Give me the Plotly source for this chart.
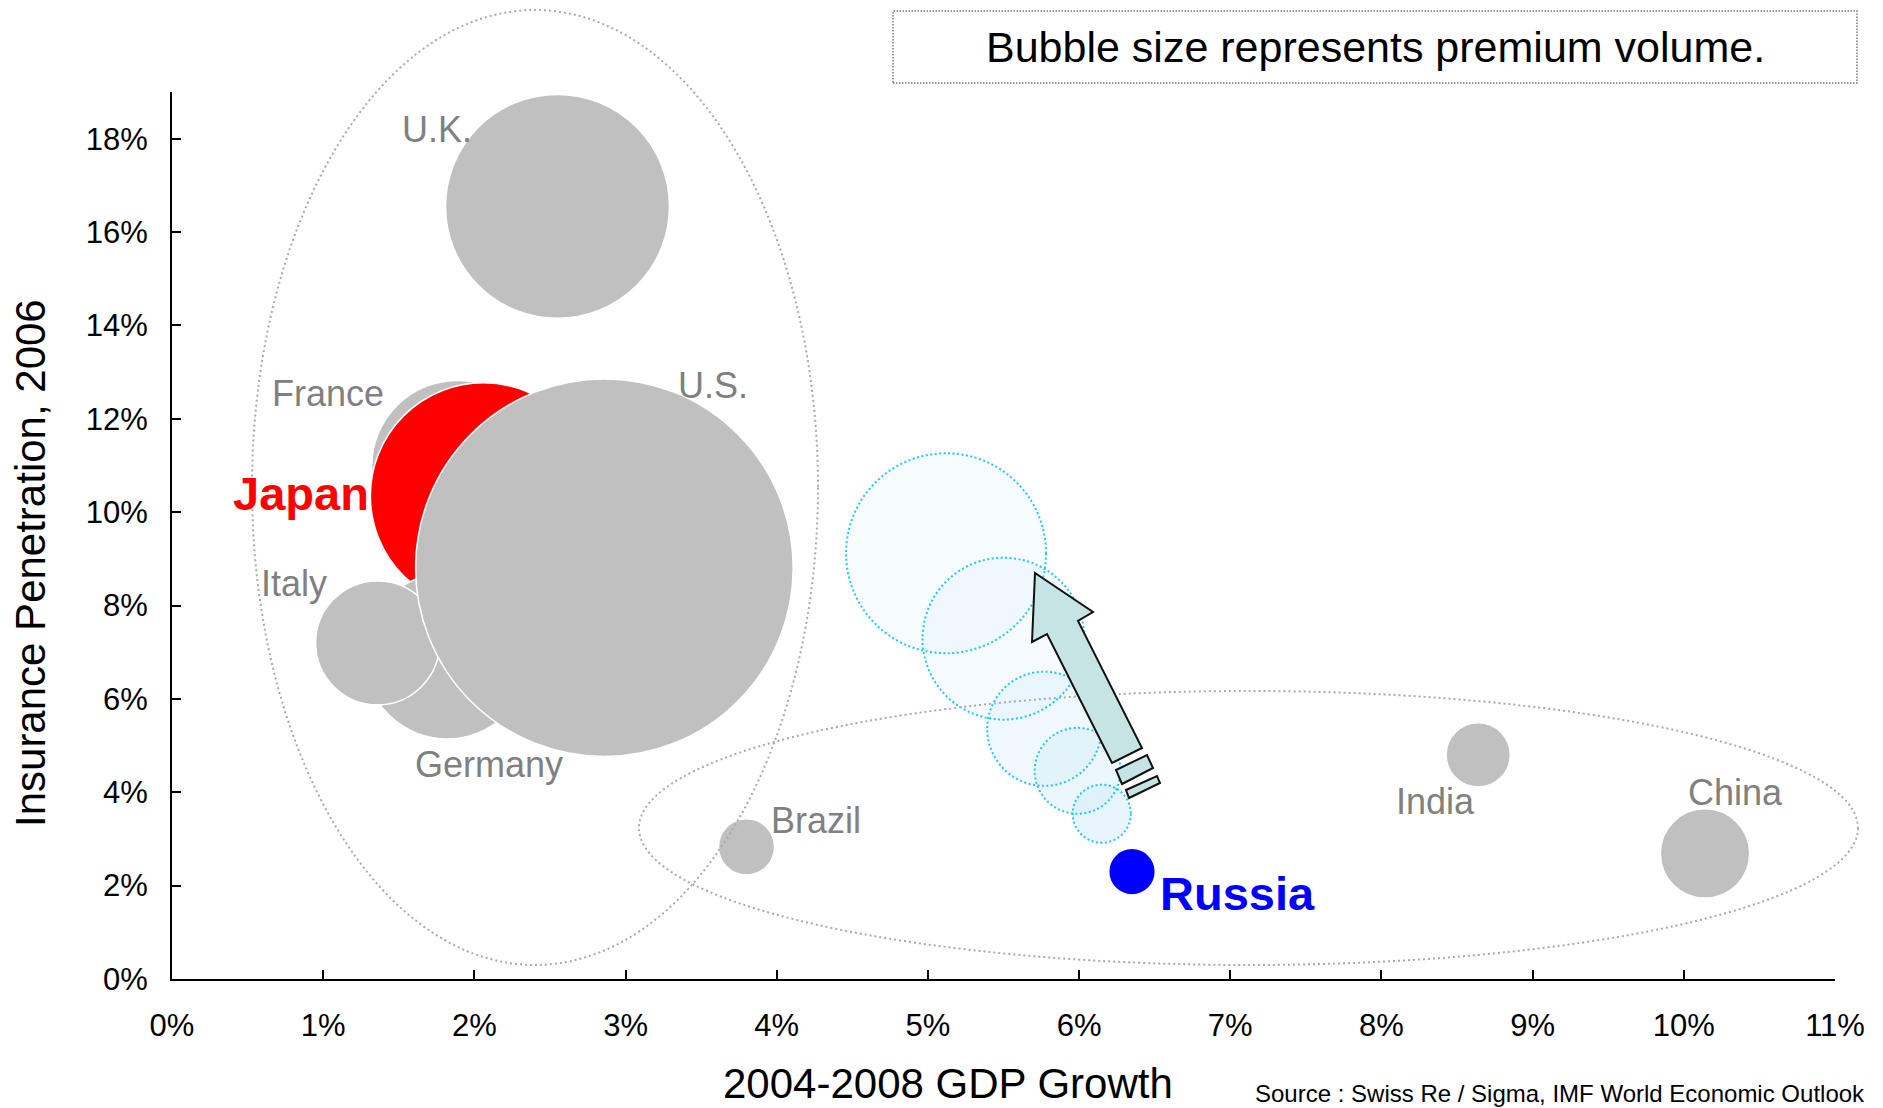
import plotly.graph_objects as go

# ---------------- data ----------------
countries = ["France", "Japan", "Germany", "Italy", "U.S.", "U.K.", "Brazil", "India", "China", "Russia"]
gdp_growth = [1.89, 2.06, 1.82, 1.36, 2.86, 2.55, 3.80, 8.64, 10.14, 6.35]          # 2004-2008 GDP growth, %
penetration = [10.98, 10.35, 6.92, 7.20, 8.81, 16.55, 2.83, 4.80, 2.69, 2.30]      # insurance penetration 2006, %
premium = [245, 423, 228, 127, 1180, 415, 26, 34, 66, 18]                        # premium volume (bubble size)

# Russia's projected path (dotted bubbles)
proj_growth = [5.12, 5.50, 5.77, 5.99, 6.15]
proj_penetration = [9.12, 7.29, 5.36, 4.46, 3.54]
proj_premium = [331, 217, 108, 61, 28]

x_ticks = list(range(0, 12))
y_ticks = list(range(0, 20, 2))

# ---------------- styles ----------------
OFF = 8                      # default page body margin
W, H = 1883 - OFF, 1108 - OFF
PL, PR, PT, PB = 172, 1835, 92, 979      # plot area in page pixels
PW, PH = PR - PL, PB - PT
ML, MT = PL - OFF, PT - OFF
MR, MB = W - ML - PW, H - MT - PH
FONT = "Arial, Liberation Sans, sans-serif"
GRAY = "#c0c0c0"
LABEL_GRAY = "#808080"
color_map = {"Japan": "#ff0000", "Russia": "#0000ff"}
label_style = {"Japan": ("#ff0000", 47, True), "Russia": ("#0000ff", 47, True)}
# label positions (data units) placed next to bubbles
label_pos = {
    "U.K.": (1.75, 18.2), "France": (1.03, 12.54), "Japan": (0.85, 10.4),
    "U.S.": (3.58, 12.72), "Italy": (0.81, 8.47), "Germany": (2.10, 4.60),
    "Brazil": (4.26, 3.40), "Russia": (7.05, 1.84), "India": (8.36, 3.80),
    "China": (10.34, 4.00),
}

SIZEREF = 1170 / (2 * 188 ** 2)


def radius_px(v):
    return (v / (2 * SIZEREF)) ** 0.5


def paper(X, Y):
    return ((X - PL) / PW, (PB - Y) / PH)


fig = go.Figure()

# main bubbles
fig.add_trace(go.Scatter(
    x=gdp_growth, y=penetration, mode="markers", text=countries,
    marker=dict(size=premium, sizemode="area", sizeref=SIZEREF,
                color=[color_map.get(c, GRAY) for c in countries],
                opacity=1, line=dict(color="white", width=1.5)),
    hoverinfo="text", showlegend=False, cliponaxis=False,
))

# projected bubbles (fill)
proj_alpha = [0.22, 0.28, 0.42, 0.55, 0.65]
fig.add_trace(go.Scatter(
    x=proj_growth, y=proj_penetration, mode="markers",
    marker=dict(size=proj_premium, sizemode="area", sizeref=SIZEREF,
                color=[f"rgba(205,234,250,{a})" for a in proj_alpha],
                line=dict(width=0)),
    hoverinfo="skip", showlegend=False,
))

shapes = []
# dotted outlines of projected bubbles
for gx, py, v in zip(proj_growth, proj_penetration, proj_premium):
    r = radius_px(v)
    shapes.append(dict(type="circle", xref="x", yref="y", xsizemode="pixel", ysizemode="pixel",
                       xanchor=gx, yanchor=py, x0=-r, x1=r, y0=-r, y1=r,
                       line=dict(color="#1ec8f5", width=2, dash="2px,2.5px"), layer="above"))

# grouping ellipses
ex0, ey0 = paper(252, 965)
ex1, ey1 = paper(818, 10)
shapes.append(dict(type="circle", xref="paper", yref="paper", x0=ex0, y0=ey0, x1=ex1, y1=ey1,
                   line=dict(color="#aaaaaa", width=2, dash="2px,3px")))
hx0, hy0 = paper(639, 965)
hx1, hy1 = paper(1858, 691)
shapes.append(dict(type="circle", xref="paper", yref="paper", x0=hx0, y0=hy0, x1=hx1, y1=hy1,
                   line=dict(color="#aaaaaa", width=2, dash="2px,3px")))

# arrow


def path(points):
    pts = [paper(X, Y) for X, Y in points]
    return "M " + " L ".join(f"{a:.5f},{b:.5f}" for a, b in pts) + " Z"


arrow = [(1035, 573), (1093, 612), (1078, 621), (1142, 748), (1112, 763), (1047, 634), (1032, 642)]
stripe1 = [(1116, 770), (1147, 755), (1153, 768), (1122, 784)]
stripe2 = [(1126, 790), (1157, 776), (1160, 783), (1129, 798)]
for poly in (arrow, stripe1, stripe2):
    shapes.append(dict(type="path", xref="paper", yref="paper", path=path(poly),
                       fillcolor="#c6e4e4", line=dict(color="#111111", width=2)))

# note box
bx0, by0 = paper(893, 83)
bx1, by1 = paper(1857, 11)
shapes.append(dict(type="rect", xref="paper", yref="paper", x0=bx0, y0=by0, x1=bx1, y1=by1,
                   line=dict(color="#7a7a7a", width=1.5, dash="1.5px,1.5px")))

annotations = []
for c in countries:
    col, size, bold = label_style.get(c, (LABEL_GRAY, 36, False))
    lx, ly = label_pos[c]
    annotations.append(dict(x=lx, y=ly, xref="x", yref="y", text=f"<b>{c}</b>" if bold else c,
                            xanchor="center", yanchor="middle",
                            showarrow=False, font=dict(family=FONT, size=size, color=col)))


def paper_text(X, Y, text, size, xanchor="center", angle=0):
    px, py = paper(X, Y)
    return dict(x=px, y=py, xref="paper", yref="paper", showarrow=False, text=text,
                xanchor=xanchor, yanchor="middle", textangle=angle,
                font=dict(family=FONT, size=size, color="black"))


annotations.append(paper_text(1375, 47, "Bubble size represents premium volume.", 43))
annotations.append(paper_text(948, 1083, "2004-2008 GDP Growth", 42))
annotations.append(paper_text(30, 563, "Insurance Penetration, 2006", 42, angle=-90))
annotations.append(paper_text(1867, 1093, "Source : Swiss Re / Sigma, IMF World Economic Outlook", 24,
                              xanchor="right"))

axis_common = dict(showgrid=False, zeroline=False, showline=True, linecolor="black", linewidth=2,
                   ticks="inside", ticklen=9, tickwidth=1.5, tickcolor="black",
                   tickfont=dict(family=FONT, size=31, color="black"))

fig.update_layout(
    width=W, height=H, margin=dict(l=ML, r=MR, t=MT, b=MB, pad=0),
    paper_bgcolor="white", plot_bgcolor="rgba(0,0,0,0)",
    xaxis=dict(range=[0, 11], tickvals=x_ticks, ticktext=[f"{v}%" for v in x_ticks],
               ticklabelstandoff=18, **axis_common),
    yaxis=dict(range=[0, 19], tickvals=y_ticks, ticktext=[f"{v}%" for v in y_ticks],
               ticklabelstandoff=16, **axis_common),
    shapes=shapes, annotations=annotations, font=dict(family=FONT),
)

fig.write_html("out.html")
